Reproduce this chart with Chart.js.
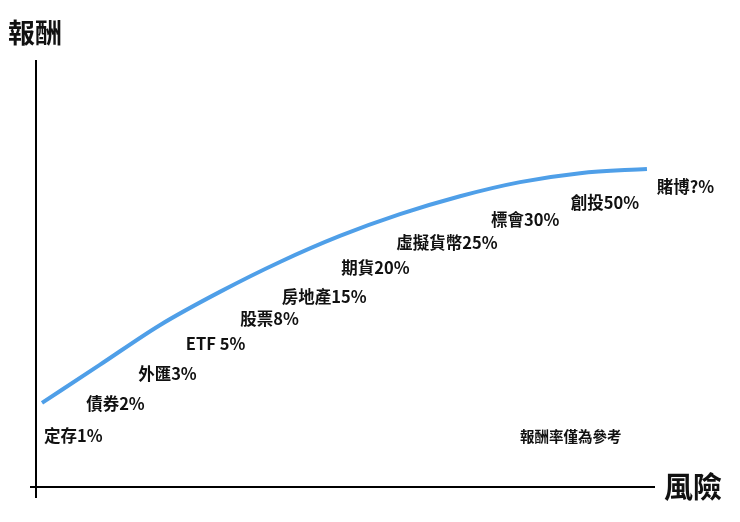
<!DOCTYPE html>
<html><head><meta charset="utf-8">
<script src="https://cdn.jsdelivr.net/npm/chart.js@4"></script>
<style>html,body{margin:0;padding:0;background:#fff}#w{width:740px;height:522px}</style>
</head><body><div id="w"><canvas id="c"></canvas></div>
<script>
const curveRisk =   [0.97,10.3,20.0,29.7,39.4,49.1,58.8,68.5,78.2,87.9,98.7];
const curveReturn = [19.7,28.6,37.9,45.7,52.7,58.8,63.9,68.1,71.4,73.5,74.5];
const labels =      ['定存1%','債券2%','外匯3%','ETF 5%','股票8%','房地產15%','期貨20%','虛擬貨幣25%','標會30%','創投50%','賭博?%'];
const labelRisk =   [1.3,8.1,16.5,24.2,33.0,39.7,49.3,58.2,73.5,86.4,100.3];
const labelReturn = [11.9,19.4,26.5,33.5,39.3,44.5,51.3,57.1,62.7,66.5,70.3];
const note = '報酬率僅為參考', noteRisk = 78.2, noteReturn = 11.9;
const yTitle = '報酬', xTitle = '風險';
const FONT = '"Noto Sans CJK TC","Noto Sans",sans-serif';

const textPlugin = {
  id:'txt',
  afterDraw(ch){
    const c=ch.ctx, a=ch.chartArea, xs=ch.scales.x, ys=ch.scales.y;
    c.save();
    c.strokeStyle='#000'; c.lineWidth=2;
    c.beginPath(); c.moveTo(a.left,a.top); c.lineTo(a.left,a.bottom+11);
    c.moveTo(a.left-6,a.bottom); c.lineTo(a.right,a.bottom); c.stroke();
    c.fillStyle='#111'; c.textBaseline='middle'; c.textAlign='left';
    c.font='bold 16.5px '+FONT;
    labels.forEach((t,i)=>c.fillText(t,xs.getPixelForValue(labelRisk[i]),ys.getPixelForValue(labelReturn[i])));
    c.font='bold 14.5px '+FONT;
    c.fillText(note,xs.getPixelForValue(noteRisk),ys.getPixelForValue(noteReturn));
    c.font='bold 27px '+FONT;
    c.fillText(yTitle,8,33);
    c.font='bold 29px '+FONT;
    c.fillText(xTitle,a.right+9,a.bottom);
    c.restore();
  }
};

new Chart(document.getElementById('c'),{
  type:'line',
  data:{datasets:[{data:curveRisk.map((x,i)=>({x,y:curveReturn[i]})),borderColor:'#4f9fe8',borderWidth:4,pointRadius:0,cubicInterpolationMode:'monotone',fill:false}]},
  options:{
    responsive:true,maintainAspectRatio:false,animation:false,
    layout:{padding:{left:36,right:85,top:60,bottom:35}},
    plugins:{legend:{display:false},tooltip:{enabled:false}},
    scales:{
      x:{type:'linear',min:0,max:100,display:false},
      y:{min:0,max:100,display:false}
    }
  },
  plugins:[textPlugin]
});
</script></body></html>
